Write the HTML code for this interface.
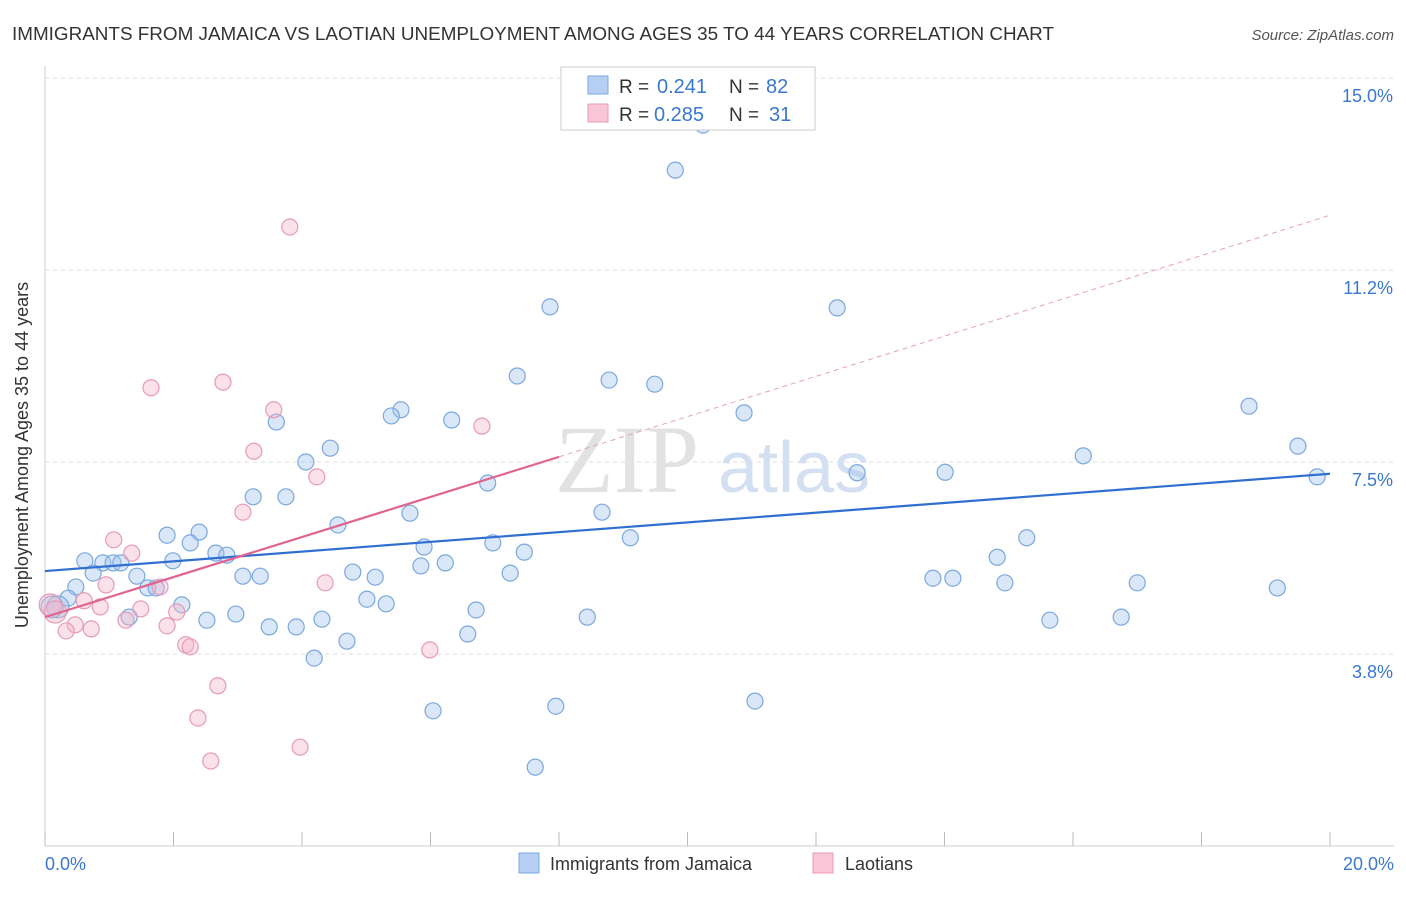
<!DOCTYPE html>
<html><head><meta charset="utf-8"><style>
body{margin:0;background:#fff;font-family:"Liberation Sans",sans-serif}
</style></head><body>
<svg width="1406" height="892" viewBox="0 0 1406 892" xmlns="http://www.w3.org/2000/svg">
<text x="12" y="40" font-size="18" fill="#333" textLength="1042" lengthAdjust="spacingAndGlyphs">IMMIGRANTS FROM JAMAICA VS LAOTIAN UNEMPLOYMENT AMONG AGES 35 TO 44 YEARS CORRELATION CHART</text>
<text x="1394" y="40" font-size="15" fill="#555" font-style="italic" text-anchor="end">Source: ZipAtlas.com</text>
<g id="grid"></g>
<text x="555" y="492" font-size="96" fill="#e2e2e2" font-family="Liberation Serif,serif">ZIP</text>
<text x="718" y="492" font-size="72" fill="#d3e0f2">atlas</text>
<g id="pts"></g>
<g id="lines"></g>
<text x="28" y="455" font-size="18" fill="#333" text-anchor="middle" transform="rotate(-90 28 455)">Unemployment Among Ages 35 to 44 years</text>
<text x="45" y="870" font-size="18" fill="#3a78d0">0.0%</text>
<text x="1394" y="870" font-size="18" fill="#3a78d0" text-anchor="end">20.0%</text>
<g>
<rect x="561" y="67" width="254" height="63" fill="#fff" stroke="#ccc"/>
<rect x="588" y="76" width="20" height="18" fill="#b6cff3" stroke="#7aa8e0"/>
<rect x="588" y="104" width="20" height="18" fill="#f8c6d6" stroke="#e89ab5"/>
<text x="619" y="93" font-size="19" fill="#333">R =</text>
<text x="657" y="93" font-size="20" fill="#3a78d0">0.241</text>
<text x="729" y="93" font-size="19" fill="#333">N =</text>
<text x="766" y="93" font-size="20" fill="#3a78d0">82</text>
<text x="619" y="121" font-size="19" fill="#333">R =</text>
<text x="654" y="121" font-size="20" fill="#3a78d0">0.285</text>
<text x="729" y="121" font-size="19" fill="#333">N =</text>
<text x="769" y="121" font-size="20" fill="#3a78d0">31</text>
</g>
<g>
<rect x="519" y="853" width="20" height="20" fill="#b6cff3" stroke="#7aa8e0"/>
<text x="550" y="870" font-size="18" fill="#333">Immigrants from Jamaica</text>
<rect x="813" y="853" width="20" height="20" fill="#f8c6d6" stroke="#e89ab5"/>
<text x="845" y="870" font-size="18" fill="#333">Laotians</text>
</g>
</svg>
<script>
const yTicks=[15,11.25,7.5,3.75];
const yTickLabels=["15.0%","11.2%","7.5%","3.8%"];
const xTicks=[0,2,4,6,8,10,12,14,16,18,20];
const bluePx=[[703,125],[675,170],[550,307],[837,308],[517,376],[609,380],[655,384],[744,413],[1249,406],[401,410],[391,416],[452,420],[276,422],[1298,446],[330,448],[1083,456],[306,462],[857,473],[945,472],[1317,477],[488,483],[253,497],[286,497],[410,513],[602,512],[338,525],[167,535],[199,532],[190,543],[630,538],[1027,538],[493,543],[424,547],[524,552],[216,553],[227,555],[85,561],[103,563],[113,563],[121,563],[173,561],[445,563],[421,566],[997,557],[93,573],[137,576],[243,576],[260,576],[353,572],[375,577],[510,573],[933,578],[953,578],[76,587],[148,588],[156,588],[1137,583],[1005,583],[1277,588],[68,598],[367,599],[386,604],[182,605],[476,610],[587,617],[236,614],[207,620],[129,617],[322,619],[1050,620],[1121,617],[269,627],[296,627],[468,634],[347,641],[314,658],[433,711],[556,706],[755,701],[535,767],[58,607],[52,607]];
const pinkPx=[[290,227],[223,382],[151,388],[274,410],[482,426],[254,451],[317,477],[243,512],[114,540],[132,553],[106,585],[160,587],[325,583],[84,601],[100,607],[141,609],[177,612],[126,620],[75,625],[91,629],[66,631],[167,626],[186,645],[190,647],[430,650],[218,686],[198,718],[300,747],[211,761],[50,605],[55,612]];
const toD=p=>[+((p[0]-45)/64.25).toFixed(2),+((846-p[1])/51.2).toFixed(2)];
const blueX=bluePx.map(p=>toD(p)[0]), blueY=bluePx.map(p=>toD(p)[1]);
const pinkX=pinkPx.map(p=>toD(p)[0]), pinkY=pinkPx.map(p=>toD(p)[1]);
const blueFit=[5.37,7.27]; const pinkFit=[4.47,7.6,12.32]; const pinkEndX=8.0;
const X=v=>45+v*64.25, Y=v=>846-v*51.2;
const NS="http://www.w3.org/2000/svg";
function mk(t,a,parent){const e=document.createElementNS(NS,t);for(const k in a)e.setAttribute(k,a[k]);parent.appendChild(e);return e;}
const grid=document.getElementById('grid');
mk('line',{x1:45,y1:66,x2:45,y2:846,stroke:'#ccc'},grid);
mk('line',{x1:45,y1:846,x2:1394,y2:846,stroke:'#ccc'},grid);
yTicks.forEach((v,i)=>{
 const l=mk('line',{x1:45,y1:Y(v),x2:1394,y2:Y(v),stroke:'#ddd','stroke-dasharray':'4,4'},grid);
 
 
 const t=mk('text',{x:1393,y:Y(v)+24,'font-size':18,fill:'#3a78d0','text-anchor':'end'},grid);
 t.textContent=yTickLabels[i];
 
 
});
xTicks.forEach(v=>{
 const l=mk('line',{x1:X(v),y1:832,x2:X(v),y2:846,stroke:'#bbb'},grid);
 
 
});
const pts=document.getElementById('pts');
blueX.forEach((x,i)=>{
 const c=mk('circle',{cx:X(x),cy:Y(blueY[i]),r:i>=blueX.length-2?11:8,fill:'rgba(160,196,240,0.4)',stroke:'#7aa8e0','stroke-width':1.2},pts);
 
 
});
pinkX.forEach((x,i)=>{
 const c=mk('circle',{cx:X(x),cy:Y(pinkY[i]),r:i>=pinkX.length-2?11:8,fill:'rgba(245,180,200,0.4)',stroke:'#e89ab5','stroke-width':1.2},pts);
 
 
});
const lines=document.getElementById('lines');
const bl=mk('line',{x1:X(0),y1:Y(blueFit[0]),x2:X(20),y2:Y(blueFit[1]),stroke:'#2f6fd0','stroke-width':2.2},lines);


const pl=mk('line',{x1:X(0),y1:Y(pinkFit[0]),x2:X(pinkEndX),y2:Y(pinkFit[1]),stroke:'#e0648f','stroke-width':2.2},lines);


const pd=mk('line',{x1:X(pinkEndX),y1:Y(pinkFit[1]),x2:X(20),y2:Y(pinkFit[2]),stroke:'#e8a0b8','stroke-width':1,'stroke-dasharray':'5,4'},lines);


</script>
</body></html>
